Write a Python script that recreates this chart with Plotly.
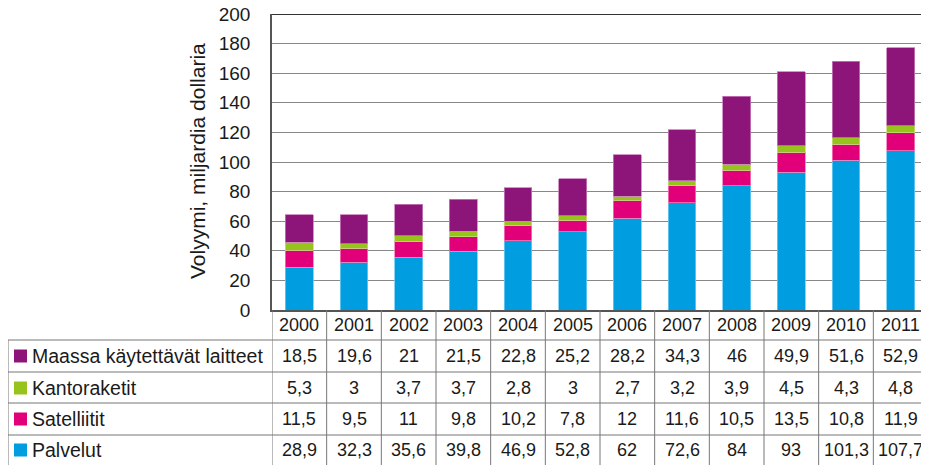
import plotly.graph_objects as go

years = ["2000", "2001", "2002", "2003", "2004", "2005", "2006", "2007", "2008", "2009", "2010", "2011"]
palvelut = [28.9, 32.3, 35.6, 39.8, 46.9, 52.8, 62, 72.6, 84, 93, 101.3, 107.7]
satelliitit = [11.5, 9.5, 11, 9.8, 10.2, 7.8, 12, 11.6, 10.5, 13.5, 10.8, 11.9]
kantoraketit = [5.3, 3, 3.7, 3.7, 2.8, 3, 2.7, 3.2, 3.9, 4.5, 4.3, 4.8]
maassa = [18.5, 19.6, 21, 21.5, 22.8, 25.2, 28.2, 34.3, 46, 49.9, 51.6, 52.9]

series = [
    ("Palvelut", palvelut, "#009EE0", "#6FCBF2"),
    ("Satelliitit", satelliitit, "#E2007A", "#F27DB8"),
    ("Kantoraketit", kantoraketit, "#98C21C", "#C5DE7A"),
    ("Maassa käytettävät laitteet", maassa, "#8D1479", "#C77DBA"),
]
table_order = ["Maassa käytettävät laitteet", "Kantoraketit", "Satelliitit", "Palvelut"]

# the page body has an 8px default margin; compensate
O = 8
W, H = 929 - O, 465 - O
L, R, T, B = 272, 928, 14, 310  # in screen (reference) pixels
pw, ph = R - L, B - T

def px(x):
    return (x - L) / pw

def py(y):
    return (B - y) / ph

FONT = "Liberation Sans, Arial, sans-serif"
TXT = "#1a1a1a"
LINE = "#777777"

fig = go.Figure()
for name, vals, col, edge in series:
    fig.add_trace(go.Bar(
        x=years, y=vals, name=name, marker_color=col,
        marker_line=dict(color=edge, width=0.8), width=0.51,
    ))

shapes = []
annotations = []

shapes.append(dict(type="line", xref="paper", yref="y", x0=0, x1=1, y0=200, y1=200,
                   line=dict(color="#333333", width=2)))
shapes.append(dict(type="line", xref="paper", yref="paper", x0=1, x1=1, y0=0, y1=1,
                   line=dict(color="#555555", width=1.5)))

row_lines = [340, 372, 403, 435]
row_centers = [356, 388, 419, 450]
table_left = 8

n = len(years)
for i in range(n + 1):
    shapes.append(dict(type="line", xref="x", yref="paper", x0=i - 0.5, x1=i - 0.5,
                       y0=py(310), y1=py(470), line=dict(color=LINE, width=1)))
shapes.append(dict(type="line", xref="paper", yref="paper", x0=px(table_left), x1=px(table_left),
                   y0=py(340), y1=py(470), line=dict(color=LINE, width=1)))
for yl in row_lines:
    shapes.append(dict(type="line", xref="paper", yref="paper", x0=px(table_left), x1=1,
                       y0=py(yl), y1=py(yl), line=dict(color=LINE, width=1)))

for i, yr in enumerate(years):
    annotations.append(dict(x=i, y=py(325), xref="x", yref="paper", text=yr, showarrow=False,
                            font=dict(size=18, color=TXT, family=FONT), xanchor="center", yanchor="middle"))

lookup = {s[0]: s for s in series}
for name, yc in zip(table_order, row_centers):
    _, vals, col, _ = lookup[name]
    shapes.append(dict(type="rect", xref="paper", yref="paper", x0=px(14), x1=px(27),
                       y0=py(yc - 6.5), y1=py(yc + 6.5), fillcolor=col, line=dict(width=0)))
    annotations.append(dict(x=px(30), y=py(yc), xref="paper", yref="paper", text=name, showarrow=False,
                            font=dict(size=19.5, color=TXT, family=FONT), xanchor="left", yanchor="middle"))
    for i, v in enumerate(vals):
        s = (f"{v:g}").replace(".", ",")
        annotations.append(dict(x=i, y=py(yc), xref="x", yref="paper", text=s, showarrow=False,
                                font=dict(size=18, color=TXT, family=FONT), xanchor="center", yanchor="middle"))

annotations.append(dict(x=px(197), y=py(161), xref="paper", yref="paper", text="Volyymi, miljardia dollaria",
                        showarrow=False, textangle=-90, font=dict(size=21, color=TXT, family=FONT),
                        xanchor="center", yanchor="middle"))

fig.update_layout(
    width=W, height=H, barmode="stack", showlegend=False,
    margin=dict(l=L - O, r=(929 - R), t=T - O, b=465 - B, pad=0, autoexpand=False),
    plot_bgcolor="white", paper_bgcolor="white",
    font=dict(family=FONT, color=TXT),
    shapes=shapes, annotations=annotations,
)
fig.update_xaxes(type="category", showticklabels=False, showgrid=False, zeroline=False,
                 showline=True, linecolor="#555555", linewidth=1.5, automargin=False,
                 range=[-0.5, n - 0.5], fixedrange=True)
fig.update_yaxes(range=[0, 200], dtick=20, showgrid=True, gridcolor="#888888", gridwidth=1,
                 zeroline=False, showline=True, linecolor="#555555", linewidth=1.5, automargin=False,
                 ticks="outside", ticklen=16, tickcolor="rgba(0,0,0,0)", ticklabeloverflow="allow",
                 tickfont=dict(size=19, color=TXT, family=FONT), fixedrange=True)

fig.write_html("out.html")
